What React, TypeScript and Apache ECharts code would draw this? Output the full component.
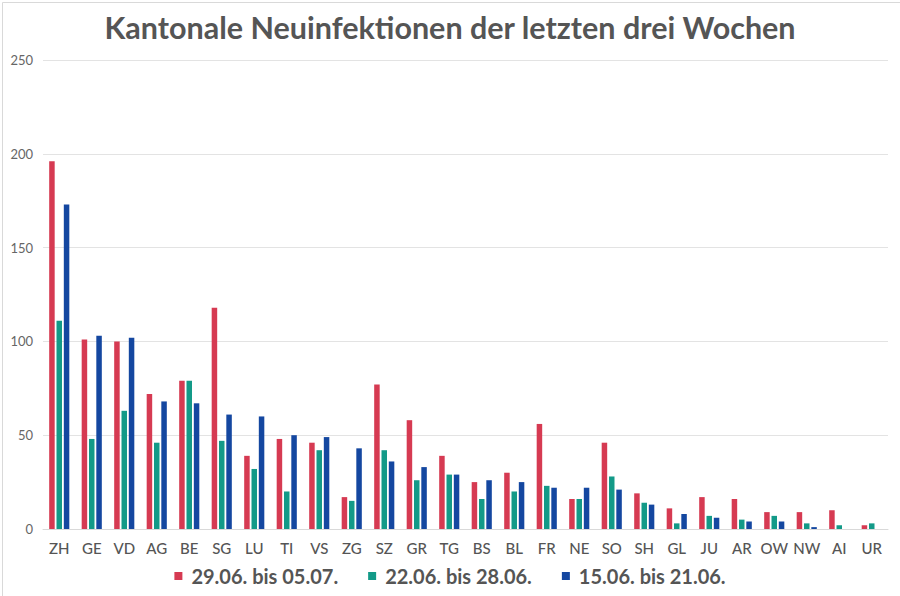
import React, { useEffect, useRef } from "react";
import * as echarts from "echarts";

const categories = ["ZH","GE","VD","AG","BE","SG","LU","TI","VS","ZG","SZ","GR","TG","BS","BL","FR","NE","SO","SH","GL","JU","AR","OW","NW","AI","UR"];
const week1 = [196,101,100,72,79,118,39,48,46,17,77,58,39,25,30,56,16,46,19,11,17,16,9,9,10,2];
const week2 = [111,48,63,46,79,47,32,20,42,15,42,26,29,16,20,23,16,28,14,3,7,5,7,3,2,3];
const week3 = [173,103,102,68,67,61,60,50,49,43,36,33,29,26,25,22,22,21,13,8,6,4,4,1,0,0];
const seriesNames = ["29.06. bis 05.07.","22.06. bis 28.06.","15.06. bis 21.06."];
const colors = ["#d63a52","#139a88","#1447a0"];

export default function App() {
  const ref = useRef<HTMLDivElement>(null);
  useEffect(() => {
    const chart = echarts.init(ref.current!, null, { renderer: "svg" });
    const data = [week1, week2, week3];
    chart.setOption({
      animation: false,
      backgroundColor: "#ffffff",
      title: {
        text: "Kantonale Neuinfektionen der letzten drei Wochen",
        left: "center",
        top: 6,
        textStyle: { fontFamily: "Lato", fontWeight: "bold", fontSize: 30.5, color: "#555555" },
      },
      graphic: [
        { type: "rect", left: 0, top: 0, shape: { width: 899, height: 595 }, style: { fill: "none", stroke: "#d9d9d9", lineWidth: 1 }, silent: true },
      ],
      legend: {
        bottom: 5,
        left: "center",
        itemWidth: 8,
        itemHeight: 8,
        itemGap: 30,
        icon: "rect",
        textStyle: { fontFamily: "Lato", fontSize: 20, color: "#555555", fontWeight: "bold", padding: [0, 0, 0, 4] },
        data: seriesNames,
      },
      grid: { left: 43, right: 12, top: 60, bottom: 67, containLabel: false },
      xAxis: {
        type: "category",
        data: categories,
        axisLine: { lineStyle: { color: "#d9d9d9" } },
        axisTick: { show: false },
        axisLabel: { interval: 0, fontFamily: "Lato", fontSize: 15, color: "#555555", fontWeight: 500, margin: 11 },
      },
      yAxis: {
        type: "value",
        min: 0,
        max: 250,
        interval: 50,
        axisLine: { show: false },
        axisTick: { show: false },
        splitLine: { lineStyle: { color: "#e3e3e3" } },
        axisLabel: { fontFamily: "Lato", fontSize: 13, color: "#666666", margin: 10 },
      },
      series: data.map((d, i) => ({
        name: seriesNames[i],
        type: "bar",
        data: d,
        barWidth: 5.5,
        barGap: "33%",
        itemStyle: { color: colors[i] },
      })),
    });
    return () => chart.dispose();
  }, []);
  return <div ref={ref} style={{ width: 900, height: 596, position: "absolute", left: 0, top: 0 }} />;
}
